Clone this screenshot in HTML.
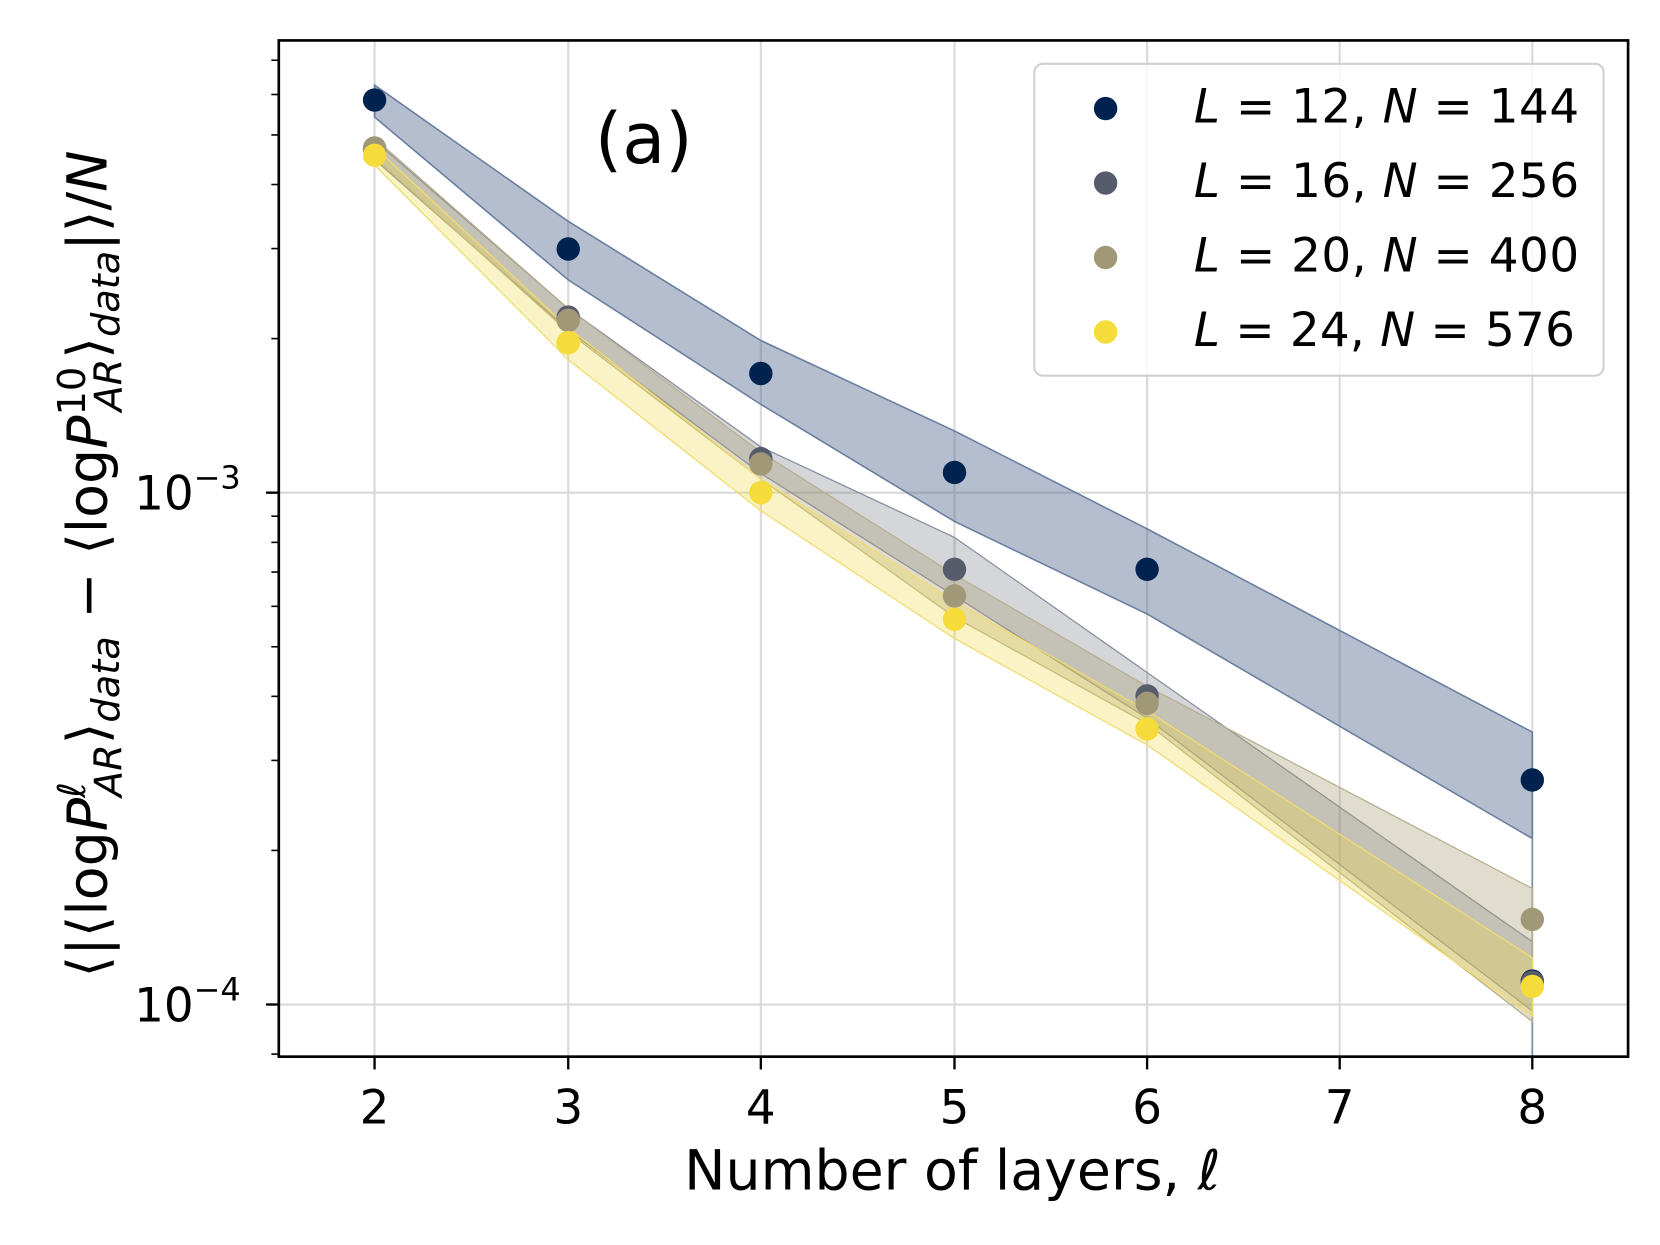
<!DOCTYPE html>
<html><head><meta charset="utf-8"><style>html,body{margin:0;padding:0;background:#fff}svg{display:block}</style></head>
<body>
<svg width="1660" height="1245" viewBox="0 0 1560 1170" xmlns="http://www.w3.org/2000/svg" font-family="'DejaVu Sans','Liberation Sans',sans-serif">
<rect width="1560" height="1170" fill="#fff"/>
<defs><clipPath id="c"><rect x="262" y="38" width="1268" height="955"/></clipPath></defs>
<g stroke="#d9d9d9" stroke-width="2">
<line x1="352" y1="38" x2="352" y2="993"/><line x1="534" y1="38" x2="534" y2="993"/><line x1="715" y1="38" x2="715" y2="993"/><line x1="897" y1="38" x2="897" y2="993"/><line x1="1078" y1="38" x2="1078" y2="993"/><line x1="1259" y1="38" x2="1259" y2="993"/><line x1="1440" y1="38" x2="1440" y2="993"/>
<line x1="262" y1="463" x2="1530" y2="463"/><line x1="262" y1="944" x2="1530" y2="944"/>
</g>
<g clip-path="url(#c)">
<polygon points="352,80 534,208 715,320 897,405 1078,497 1440,688 1440,788 1078,577 897,490 715,380 534,263 352,110" fill="#5a6f92" fill-opacity="0.45" stroke="#6a7fa0" stroke-width="1.5"/>
<line x1="1440" y1="788" x2="1440" y2="1000" stroke="#8090a8" stroke-width="1.5"/>
<polygon points="352,132 534,290 715,420 897,505 1078,632 1440,885 1440,950 1078,675 897,560 715,445 534,310 352,150" fill="#575c6d" fill-opacity="0.25" stroke="#8a8fa0" stroke-width="1.2"/>
<polygon points="352,130 534,290 715,425 897,540 1078,645 1440,835 1440,960 1078,680 897,580 715,450 534,312 352,148" fill="#a59c74" fill-opacity="0.35" stroke="#b8b090" stroke-width="1.2"/>
<polygon points="352,138 534,308 715,450 897,565 1078,668 1440,900 1440,955 1078,700 897,600 715,480 534,338 352,155" fill="#f0d840" fill-opacity="0.3" stroke="#f0dc70" stroke-width="1.2"/>
<g fill="#00224e"><circle cx="352" cy="94" r="11"/><circle cx="534" cy="234" r="11"/><circle cx="715" cy="351" r="11"/><circle cx="897" cy="444" r="11"/><circle cx="1078" cy="535" r="11"/><circle cx="1440" cy="733" r="11"/><circle cx="1440" cy="922" r="11"/></g>
<g fill="#575c6d"><circle cx="352" cy="140" r="11"/><circle cx="534" cy="298" r="11"/><circle cx="715" cy="431" r="11"/><circle cx="897" cy="535" r="11"/><circle cx="1078" cy="654" r="11"/><circle cx="1440" cy="923" r="11"/></g>
<g fill="#a09877"><circle cx="352" cy="139" r="11"/><circle cx="534" cy="301" r="11"/><circle cx="715" cy="436" r="11"/><circle cx="897" cy="560" r="11"/><circle cx="1078" cy="661" r="11"/><circle cx="1440" cy="864" r="11"/></g>
<g fill="#f5dc3a"><circle cx="352" cy="146" r="11"/><circle cx="534" cy="322" r="11"/><circle cx="715" cy="463" r="11"/><circle cx="897" cy="582" r="11"/><circle cx="1078" cy="685" r="11"/><circle cx="1440" cy="927" r="11"/></g>
</g>
<rect x="262" y="38" width="1268" height="955" fill="none" stroke="#000" stroke-width="2.5"/>
<g stroke="#000" stroke-width="2.2">
<line x1="352" y1="993" x2="352" y2="1005"/><line x1="534" y1="993" x2="534" y2="1005"/><line x1="715" y1="993" x2="715" y2="1005"/><line x1="897" y1="993" x2="897" y2="1005"/><line x1="1078" y1="993" x2="1078" y2="1005"/><line x1="1259" y1="993" x2="1259" y2="1005"/><line x1="1440" y1="993" x2="1440" y2="1005"/>
<line x1="250" y1="463" x2="262" y2="463"/><line x1="250" y1="944" x2="262" y2="944"/>
</g>
<g stroke="#000" stroke-width="1.5">
<line x1="255" y1="990.6" x2="262" y2="990.6"/><line x1="255" y1="799.2" x2="262" y2="799.2"/><line x1="255" y1="714.6" x2="262" y2="714.6"/><line x1="255" y1="654.4" x2="262" y2="654.4"/><line x1="255" y1="607.8" x2="262" y2="607.8"/><line x1="255" y1="569.8" x2="262" y2="569.8"/><line x1="255" y1="537.6" x2="262" y2="537.6"/><line x1="255" y1="509.7" x2="262" y2="509.7"/><line x1="255" y1="485.1" x2="262" y2="485.1"/>
<line x1="255" y1="318.2" x2="262" y2="318.2"/><line x1="255" y1="233.6" x2="262" y2="233.6"/><line x1="255" y1="173.4" x2="262" y2="173.4"/><line x1="255" y1="126.8" x2="262" y2="126.8"/><line x1="255" y1="88.8" x2="262" y2="88.8"/><line x1="255" y1="56.6" x2="262" y2="56.6"/>
</g>
<g font-size="44" text-anchor="middle" fill="#000">
<text x="352" y="1056">2</text><text x="534" y="1056">3</text><text x="715" y="1056">4</text><text x="897" y="1056">5</text><text x="1078" y="1056">6</text><text x="1259" y="1056">7</text><text x="1440" y="1056">8</text>
</g>
<text x="126" y="479" font-size="44">10<tspan dy="-20" font-size="30">−3</tspan></text>
<text x="126" y="960" font-size="44">10<tspan dy="-20" font-size="30">−4</tspan></text>
<text x="895" y="1118" font-size="52" text-anchor="middle">Number of layers, <tspan font-style="italic">ℓ</tspan></text>
<text transform="translate(100,530) rotate(-90)" font-size="52" text-anchor="middle">⟨|⟨log<tspan font-style="italic">P</tspan><tspan font-size="36" dy="-20" font-style="italic">ℓ</tspan><tspan font-size="36" dy="34" dx="-14" font-style="italic">AR</tspan><tspan dy="-14">⟩</tspan><tspan font-size="36" dy="12" font-style="italic">data</tspan><tspan dy="-12"> − ⟨log</tspan><tspan font-style="italic">P</tspan><tspan font-size="36" dy="-20">10</tspan><tspan font-size="36" dy="34" dx="-42" font-style="italic">AR</tspan><tspan dy="-14">⟩</tspan><tspan font-size="36" dy="12" font-style="italic">data</tspan><tspan dy="-12">|⟩/</tspan><tspan font-style="italic">N</tspan></text>
<text x="605" y="153" font-size="66" text-anchor="middle">(a)</text>
<rect x="972" y="60" width="535" height="293" rx="8" fill="#fff" fill-opacity="0.8" stroke="#d0d0d0" stroke-width="2"/>
<circle cx="1039" cy="102" r="11" fill="#00224e"/>
<circle cx="1039" cy="172" r="11" fill="#575c6d"/>
<circle cx="1039" cy="242" r="11" fill="#a09877"/>
<circle cx="1039" cy="312" r="11" fill="#f5dc3a"/>
<g font-size="44" fill="#000">
<text x="1122" y="115" textLength="362"><tspan font-style="italic">L</tspan> = 12, <tspan font-style="italic">N</tspan> = 144</text>
<text x="1122" y="185" textLength="362"><tspan font-style="italic">L</tspan> = 16, <tspan font-style="italic">N</tspan> = 256</text>
<text x="1122" y="255" textLength="362"><tspan font-style="italic">L</tspan> = 20, <tspan font-style="italic">N</tspan> = 400</text>
<text x="1122" y="325" textLength="358"><tspan font-style="italic">L</tspan> = 24, <tspan font-style="italic">N</tspan> = 576</text>
</g>
</svg>
</body></html>
